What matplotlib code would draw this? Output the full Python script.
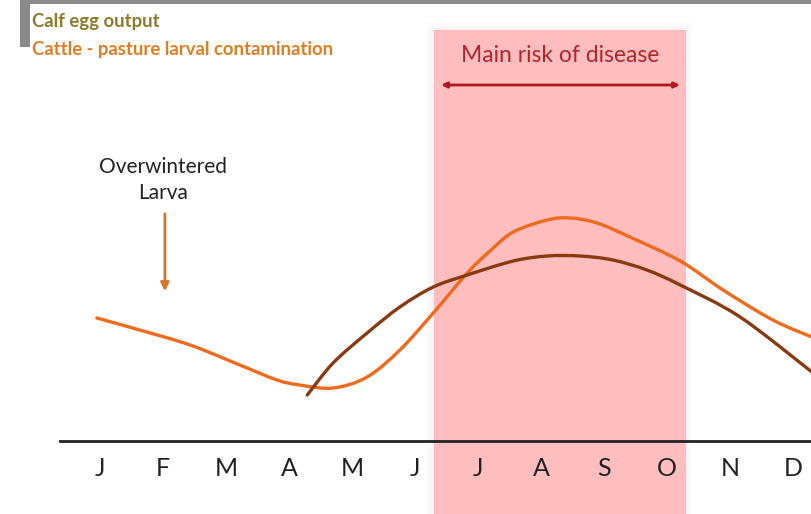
import matplotlib
matplotlib.use("Agg")
import numpy as np
import matplotlib.pyplot as plt
from matplotlib.patches import Rectangle, PathPatch
from matplotlib.path import Path

plt.rcParams['font.family'] = ['Lato', 'DejaVu Sans']

# month labels
months = ["J", "F", "M", "A", "M", "J", "J", "A", "S", "O", "N", "D"]

# larval contamination on pasture (x in months from Jan, y = relative level)
larva_x = [-0.05, 0.63, 1.43, 2.22, 2.81, 3.17, 3.70, 4.24, 4.76, 5.29,
           5.83, 6.19, 6.56, 7.10, 7.46, 7.89, 8.41, 9.21, 9.89, 10.68, 11.30]
larva_y = [123, 111, 96, 76, 61, 56, 53, 64, 91, 128,
           168, 190, 209, 221, 223, 218, 204, 180, 151, 121, 104]

# calf egg output
egg_x = [3.29, 3.70, 4.24, 4.76, 5.29, 5.83, 6.56, 7.10, 7.62, 8.14,
         8.68, 9.21, 10.16, 11.30]
egg_y = [46, 78, 108, 134, 154, 166, 180, 185, 185, 181,
         171, 156, 124, 69]

# main risk period (Jul-Oct)
risk_start, risk_end = 5.3, 9.3


def smooth_path(xs, ys, sx=1.0):
    # Catmull-Rom through the points, drawn as cubic Bezier segments
    p = np.column_stack([np.asarray(xs) * sx, np.asarray(ys, dtype=float)])
    verts = [p[0]]
    codes = [Path.MOVETO]
    n = len(p)
    for i in range(n - 1):
        p0 = p[i - 1] if i > 0 else p[i]
        p1, p2 = p[i], p[i + 1]
        p3 = p[i + 2] if i + 2 < n else p[i + 1]
        verts += [p1 + (p2 - p0) / 6, p2 - (p3 - p1) / 6, p2]
        codes += [Path.CURVE4] * 3
    v = np.array(verts)
    v[:, 0] /= sx
    return Path(v, codes)


fig = plt.figure(figsize=(8.12, 5.14), dpi=100)
ax = fig.add_axes([0, 0, 1, 1])
ax.set_xlim(-100 / 63, 712 / 63)
ax.set_ylim(-73, 441)
ax.axis("off")

# pink band with soft edges
for pad, a in [(0.12, 0.05), (0.07, 0.08), (0.03, 0.12)]:
    ax.add_patch(Rectangle((risk_start - pad, -80), risk_end - risk_start + 2 * pad,
                           411 + 80 + pad * 63, color="#d8c8e0", alpha=a, lw=0))
ax.add_patch(Rectangle((risk_start, -80), risk_end - risk_start, 411 + 80,
                       color="#ffbdbd", lw=0))

# baseline
ax.plot([-40 / 63, 11.4], [0, 0], color="#222222", lw=2)
for i, m in enumerate(months):
    ax.text(i, -27, m, ha="center", va="center", fontsize=18, color="#222222")

# x and y share pixel scale: 63 px per month, 1 px per level unit
ax.add_patch(PathPatch(smooth_path(larva_x, larva_y, sx=63), fill=False,
                       edgecolor="#ee6a1c", lw=2.4, capstyle="round"))
ax.add_patch(PathPatch(smooth_path(egg_x, egg_y, sx=63), fill=False,
                       edgecolor="#8a3a10", lw=2.4, capstyle="round"))

# risk arrow
ax.annotate("", xy=(risk_end - 0.05, 356), xytext=(risk_start + 0.07, 356),
            arrowprops=dict(arrowstyle="<|-|>", color="#b01820", lw=2,
                            mutation_scale=8))
ax.text((risk_start + risk_end) / 2, 386, "Main risk of disease",
        ha="center", va="center", fontsize=16.5, color="#b3262e")

# overwintered larva
ax.text(1.0, 274, "Overwintered", ha="center", va="center", fontsize=15,
        color="#222222")
ax.text(1.0, 248, "Larva", ha="center", va="center", fontsize=15,
        color="#222222")
ax.annotate("", xy=(1.03, 147), xytext=(1.03, 230),
            arrowprops=dict(arrowstyle="-|>", color="#d9742a", lw=2,
                            mutation_scale=12))

# legend-like titles
fig.text(32 / 812, 1 - 21 / 514, "Calf egg output", ha="left", va="center",
         fontsize=13.3, fontweight="bold", color="#8e7a2a")
fig.text(32 / 812, 1 - 50 / 514, "Cattle - pasture larval contamination",
         ha="left", va="center", fontsize=13.3, fontweight="bold", color="#e07d22")

# screenshot border remnants
fig.patches.append(Rectangle((20 / 812, 1 - 4 / 514), 792 / 812, 4 / 514,
                             transform=fig.transFigure, color="#8a8a8a", lw=0))
fig.patches.append(Rectangle((20 / 812, 1 - 47 / 514), 10 / 812, 47 / 514,
                             transform=fig.transFigure, color="#8a8a8a", lw=0))

fig.savefig("out.png", dpi=100)
